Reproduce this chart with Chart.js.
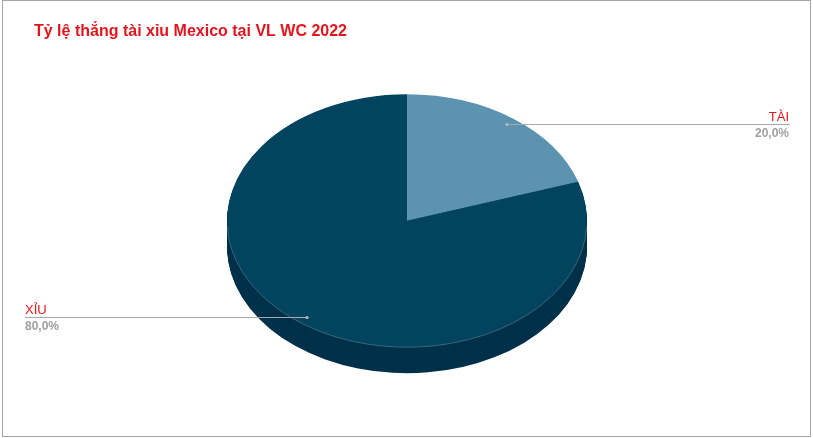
<!DOCTYPE html>
<html>
<head>
<meta charset="utf-8">
<script src="https://cdn.jsdelivr.net/npm/chart.js@4.4.0/dist/chart.umd.min.js"></script>
<style>
html,body{margin:0;padding:0;background:#fff;}
#wrap{position:absolute;left:0;top:0;width:813px;height:438px;}
</style>
</head>
<body>
<div id="wrap"><canvas id="c" width="813" height="438"></canvas></div>
<script>
const chartTitle = "Tỷ lệ thắng tài xỉu Mexico tại VL WC 2022";
const categories = ["TÀI", "XỈU"];
const values = [20, 80];
const topColors = ["#5b93b0", "#02445f"];
const sideColors = ["#3a6a82", "#00314a"];

const tilt = 126.5 / 180;   // vertical squash of the pie
const depth = 26;           // thickness of the 3D rim in px

function fmtPct(v, total) {
  return (v / total * 100).toFixed(1).replace('.', ',') + '%';
}

const pie3d = {
  id: 'pie3d',
  beforeDraw(chart) {
    const ctx = chart.ctx;
    ctx.save();
    ctx.fillStyle = '#ffffff';
    ctx.fillRect(0, 0, chart.width, chart.height);
    ctx.strokeStyle = '#a6a6a6';
    ctx.lineWidth = 1;
    ctx.strokeRect(2.5, 0.5, 808, 436);
    ctx.fillStyle = '#e3151c';
    ctx.font = 'bold 16px "Liberation Sans", Arial, sans-serif';
    ctx.textBaseline = 'alphabetic';
    ctx.textAlign = 'left';
    ctx.fillText(chartTitle, 34, 36);
    ctx.restore();
  },
  beforeDatasetsDraw(chart) {
    const ctx = chart.ctx;
    const meta = chart.getDatasetMeta(0);
    const a0 = meta.data[0];
    const cx = a0.x, cy = a0.y;
    // side / rim
    for (let d = depth; d >= 1; d--) {
      meta.data.forEach((arc, i) => {
        const p = arc.getProps(['x', 'y', 'startAngle', 'endAngle', 'outerRadius'], true);
        ctx.save();
        ctx.translate(0, d);
        ctx.translate(cx, cy);
        ctx.scale(1, tilt);
        ctx.translate(-cx, -cy);
        ctx.beginPath();
        ctx.moveTo(p.x, p.y);
        ctx.arc(p.x, p.y, p.outerRadius, p.startAngle, p.endAngle);
        ctx.closePath();
        ctx.fillStyle = sideColors[i];
        ctx.fill();
        ctx.restore();
      });
    }
    ctx.save();
    ctx.translate(cx, cy);
    ctx.scale(1, tilt);
    ctx.translate(-cx, -cy);
  },
  afterDatasetsDraw(chart) {
    const ctx = chart.ctx;
    ctx.restore();
    const meta = chart.getDatasetMeta(0);
    const a0 = meta.data[0];
    const cx = a0.x, cy = a0.y, r = a0.outerRadius;
    // faint rim highlight on front edge
    ctx.save();
    ctx.beginPath();
    ctx.ellipse(cx, cy, r, r * tilt, 0, 0.05, Math.PI - 0.05);
    ctx.strokeStyle = 'rgba(255,255,255,0.22)';
    ctx.lineWidth = 1;
    ctx.stroke();
    ctx.restore();

    const total = values.reduce((a, b) => a + b, 0);
    meta.data.forEach((arc, i) => {
      const p = arc.getProps(['x', 'y', 'startAngle', 'endAngle', 'outerRadius'], true);
      const mid = (p.startAngle + p.endAngle) / 2;
      const px = p.x + Math.cos(mid) * p.outerRadius * 0.945;
      const py = p.y + Math.sin(mid) * p.outerRadius * 0.945 * tilt;
      const right = Math.cos(mid) >= 0;
      const ex = right ? 790 : 25;
      const ly = Math.round(py) + 0.5;
      ctx.save();
      ctx.strokeStyle = '#a9a9a9';
      ctx.lineWidth = 1;
      ctx.beginPath();
      ctx.moveTo(px, ly);
      ctx.lineTo(ex, ly);
      ctx.stroke();
      ctx.fillStyle = '#b8b8b8';
      ctx.beginPath();
      ctx.arc(px, ly, 1.6, 0, Math.PI * 2);
      ctx.fill();
      ctx.textAlign = right ? 'right' : 'left';
      ctx.font = '13px "Liberation Sans", Arial, sans-serif';
      ctx.fillStyle = '#e3151c';
      ctx.textBaseline = 'alphabetic';
      ctx.fillText(categories[i], ex - (right ? 1 : 0), ly - 4);
      ctx.font = 'bold 12px "Liberation Sans", Arial, sans-serif';
      ctx.fillStyle = '#a0a0a0';
      ctx.fillText(fmtPct(values[i], total), ex - (right ? 1 : 0), ly + 12);
      ctx.restore();
    });
  }
};

new Chart(document.getElementById('c'), {
  type: 'pie',
  data: {
    labels: categories,
    datasets: [{
      data: values,
      backgroundColor: topColors,
      borderWidth: 0
    }]
  },
  options: {
    responsive: false,
    animation: false,
    events: [],
    layout: { padding: { left: 227, right: 226, top: 40.5, bottom: 37 } },
    plugins: {
      legend: { display: false },
      tooltip: { enabled: false },
      title: { display: false }
    }
  },
  plugins: [pie3d]
});
</script>
</body>
</html>
